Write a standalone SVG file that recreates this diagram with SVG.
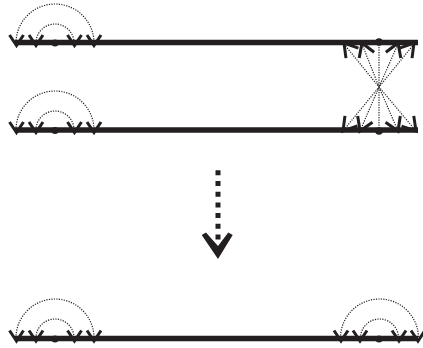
<svg xmlns="http://www.w3.org/2000/svg" width="423" height="348" viewBox="0 0 423 348">
<style>
.bar{stroke:#231f20;stroke-width:5.400;fill:none}
.v{stroke:#231f20;stroke-width:3;fill:none;stroke-linejoin:miter}
.d{stroke:#231f20;stroke-width:1.2;stroke-dasharray:1.2 1.3;fill:none}
.p{fill:#231f20}
</style>
<defs>
<path id="y" class="v" d="M-7,-10.500 L0,0 L7,-10.500"/>
<path id="w" class="v" d="M-8,-13 L0,0 L8,-13"/>
<g id="arcs">
<path class="d" d="M0,0 A39,39 0 0 1 78,0"/>
<path class="d" d="M20,0 A19,19 0 0 1 58,0"/>
</g>
</defs>
<g id="connectors">
<use href="#arcs" x="16" y="43"/>
<use href="#arcs" x="16" y="130"/>
<use href="#arcs" x="16" y="338"/>
<use href="#arcs" x="340.500" y="338"/>
<path class="d" d="M344,44L379,87L343,131M362,44L379,87L360,131M379,42V131M398,44L379,87L398,131M414,44L379,87L416,131"/>
<path d="M218,170.300V240" stroke="#231f20" stroke-width="5" stroke-dasharray="5 5.700" fill="none"/>
</g>
<g id="line-top"><path class="bar" d="M15,42.500H418"/>
<use href="#y" x="16.500" y="45.500"/><use href="#y" x="36" y="45.500"/><circle class="p" cx="55" cy="43" r="3.500"/><use href="#y" x="74.500" y="45.500"/><use href="#y" x="94" y="45.500"/>
<use href="#w" transform="translate(344,43) rotate(141)"/><use href="#w" transform="translate(362,43) rotate(159)"/><circle class="p" cx="379" cy="42" r="3.800"/><use href="#w" transform="translate(398,43) rotate(201)"/><use href="#w" transform="translate(414,43) rotate(219)"/>
</g>
<g id="line-mid"><path class="bar" d="M15,130H418"/>
<use href="#y" x="16.500" y="132.500"/><use href="#y" x="36" y="132.500"/><circle class="p" cx="55" cy="130.500" r="3.500"/><use href="#y" x="74.500" y="132.500"/><use href="#y" x="94" y="132.500"/>
<use href="#w" transform="translate(343,131) rotate(39)"/><use href="#w" transform="translate(360,131) rotate(23)"/><circle class="p" cx="379" cy="131" r="3.800"/><use href="#w" transform="translate(398,131) rotate(-23)"/><use href="#w" transform="translate(416,131) rotate(-40)"/>
</g>
<g id="arrow"><path class="p" d="M201.700,235L206,232.500L218,246L228.300,232.500L232.700,235L218,259Z"/></g>
<g id="line-bottom"><path class="bar" d="M15,338.500H418"/>
<use href="#y" x="16.500" y="341"/><use href="#y" x="36" y="341"/><circle class="p" cx="55" cy="339" r="3.500"/><use href="#y" x="74.500" y="341"/><use href="#y" x="94" y="341"/>
<use href="#y" x="341" y="341"/><use href="#y" x="360" y="341"/><circle class="p" cx="379" cy="339" r="3.500"/><use href="#y" x="399" y="341"/><use href="#y" x="418" y="341"/>
</g>
</svg>
